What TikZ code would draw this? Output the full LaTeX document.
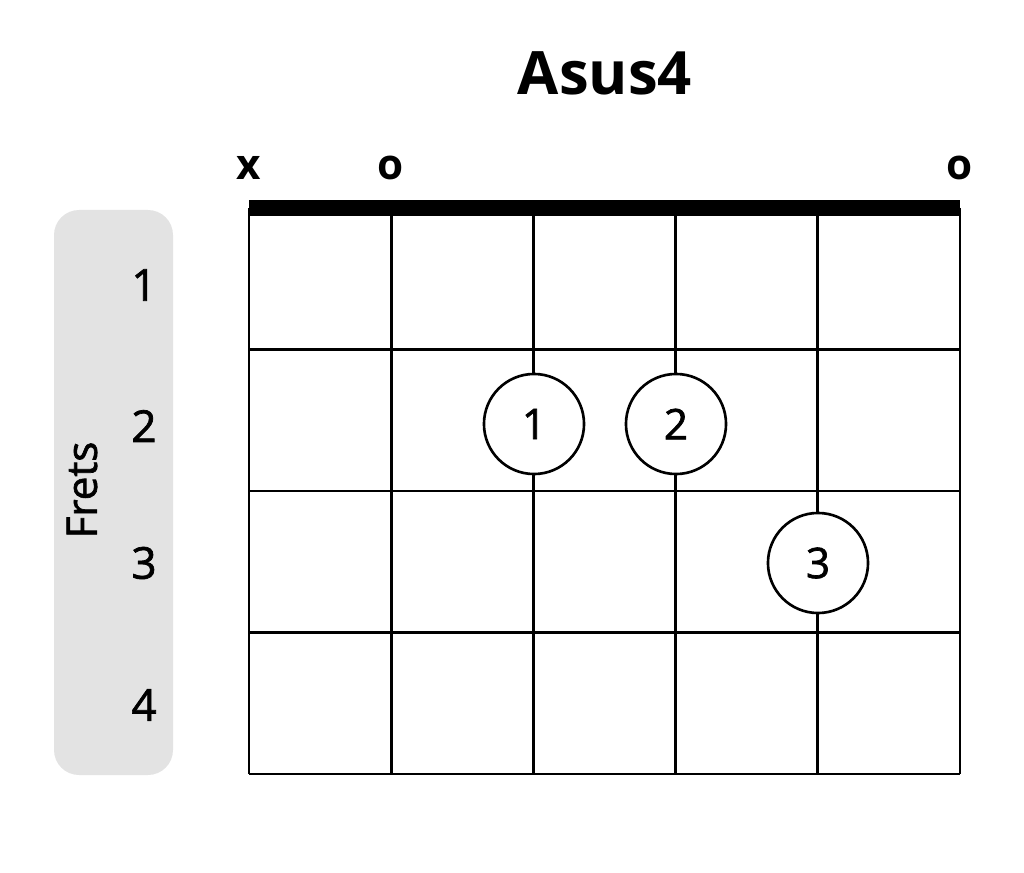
\documentclass[tikz,border=0pt]{standalone}
\usepackage{fontspec}
\setmainfont{Open Sans}
\newfontfamily\semib[FakeBold=1.6]{Open Sans}
\usepackage{tikz}

\begin{document}
\begin{tikzpicture}[x=0.01cm,y=-0.01cm,
  gridline/.style={line width=0.75pt},
  finger/.style={circle,draw,line width=0.75pt,fill=white,minimum size=1cm,inner sep=0pt,font=\semib\fontsize{12}{14}\selectfont},
  marker/.style={font=\bfseries\fontsize{12}{14}\selectfont},
  fretnum/.style={font=\semib\fontsize{12.5}{14}\selectfont}]
\useasboundingbox (0,0) rectangle (1024,873);
% side panel
\fill[gray!22,rounded corners=0.25cm] (54,210) rectangle (173,775);
\node[rotate=90,font=\semib\fontsize{12}{14}\selectfont] (lbl) at (82,490) {Frets};
% title
\node[font=\bfseries\fontsize{17}{20}\selectfont] (title) at (605,73) {Asus4};
% strings and frets
\foreach \s in {0,...,5}
  \draw[gridline] (249+\s*142.2,208) -- (249+\s*142.2,774);
\foreach \f in {1,...,4}
  \draw[gridline] (249,208+\f*141.5) -- (960,208+\f*141.5);
\draw[line width=4.6pt] (249,208) -- (960,208);
% open / muted
\node[marker] (m1) at (249,168) {x};
\node[marker] (m2) at (391,168) {o};
\node[marker] (m6) at (960,168) {o};
% fret numbers
\node[fretnum] (f1) at (144,285) {1};
\node[fretnum] (f2) at (144,426) {2};
\node[fretnum] (f3) at (144,563) {3};
\node[fretnum] (f4) at (144,705) {4};
% fingers
\node[finger] (d1) at (534,424) {1};
\node[finger] (d2) at (676,424) {2};
\node[finger] (d3) at (818,563) {3};
\end{tikzpicture}
\end{document}
